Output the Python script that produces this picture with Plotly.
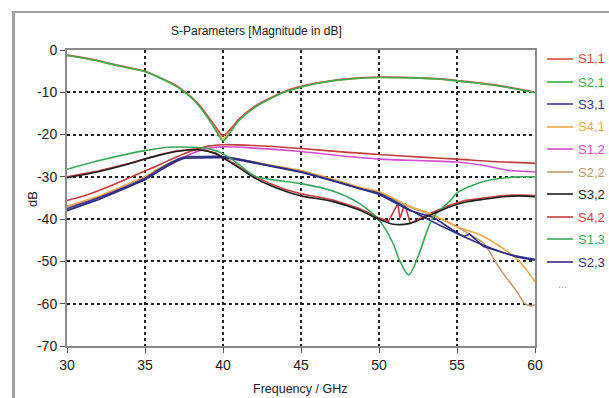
import plotly.graph_objects as go

# ---------------- data ----------------
f_s11 = [30, 31, 32, 33, 34, 35, 36, 37, 37.5, 38, 38.5, 39, 39.5, 40, 40.5, 41, 42, 43, 44, 45, 46, 47, 48, 50, 52, 54, 55, 56, 58, 60]
db_s11 = [-1.2, -1.8, -2.5, -3.4, -4.2, -5.0, -6.6, -8.4, -9.7, -11.2, -13.1, -15.5, -18.0, -20.3, -18.6, -16.4, -13.4, -11.4, -9.7, -8.6, -7.8, -7.2, -6.8, -6.4, -6.5, -6.8, -7.2, -7.6, -8.6, -10.0]

f_s21 = f_s11
db_s21 = [-1.3, -1.9, -2.6, -3.5, -4.3, -5.1, -6.7, -8.6, -9.9, -11.4, -13.4, -15.9, -18.8, -21.5, -19.3, -16.8, -13.7, -11.6, -9.9, -8.8, -7.9, -7.3, -6.9, -6.5, -6.6, -6.9, -7.3, -7.7, -8.7, -10.1]

f_s41_top = f_s11
db_s41_top = [-1.3, -1.9, -2.6, -3.5, -4.3, -5.1, -6.7, -8.5, -9.8, -11.3, -13.3, -15.8, -18.5, -21.0, -19.0, -16.6, -13.6, -11.5, -9.8, -8.7, -7.9, -7.3, -6.9, -6.5, -6.6, -6.9, -7.3, -7.7, -8.7, -10.0]

f_s31 = [30, 32, 34, 35, 36, 37, 37.5, 38.5, 40, 41, 43, 45, 47, 49, 50, 52, 53, 55, 56.4, 58.2, 60]
db_s31 = [-37.5, -35.0, -32.0, -30.3, -28.0, -26.0, -25.3, -25.2, -25.2, -25.8, -27.3, -28.8, -30.8, -33.0, -33.9, -37.8, -39.8, -43.4, -45.7, -48.2, -49.5]

f_s41 = [30, 32, 34, 35, 36, 37, 37.5, 38.5, 40, 41, 43, 45, 47, 49, 50, 52, 53.5, 55, 56.7, 58.9, 60]
db_s41 = [-37.0, -34.6, -31.6, -30.0, -27.8, -26.0, -25.5, -25.4, -25.3, -25.8, -27.2, -28.5, -30.5, -32.7, -33.5, -37.0, -39.0, -41.8, -44.1, -49.6, -54.8]

f_s12 = [30, 31, 32, 33, 34, 35, 36, 37, 38, 39, 40, 42, 45, 48, 50, 53, 55, 57, 58.2, 60]
db_s12 = [-37.0, -36.0, -34.8, -33.2, -31.6, -30.0, -28.2, -26.4, -24.5, -23.3, -22.9, -23.2, -24.0, -25.2, -25.8, -26.2, -26.5, -27.5, -28.4, -28.8]

f_s22 = [30, 32, 34, 35, 36, 37, 37.5, 38.5, 40, 41, 43, 45, 47, 49, 50, 52, 53.5, 55, 56, 56.7, 57.8, 58.9, 59.3, 59.7, 60]
db_s22 = [-37.8, -35.3, -32.2, -30.6, -28.3, -26.3, -25.6, -25.4, -25.3, -25.9, -27.3, -28.6, -30.6, -32.8, -33.6, -37.2, -39.2, -41.8, -44.0, -45.7, -52.0, -57.5, -59.8, -60.5, -60.2]

f_s32 = [30, 32, 34, 35, 36, 37, 38, 38.5, 39.5, 40, 41, 42, 43, 44, 45, 47, 48.7, 50, 50.9, 52, 53.3, 54.6, 55.5, 56.7, 58, 59, 60]
db_s32 = [-30.2, -28.8, -26.9, -25.8, -24.8, -24.0, -23.6, -23.6, -24.5, -25.5, -27.8, -30.2, -32.0, -33.4, -34.5, -35.8, -37.8, -40.0, -41.2, -41.0, -39.0, -37.0, -36.0, -35.3, -34.7, -34.5, -34.7]

f_s42 = [30, 31, 32, 33, 34, 35, 36, 37, 38, 39, 40, 42, 45, 48, 50, 53, 55, 57, 60]
db_s42 = [-35.6, -34.6, -33.3, -31.8, -30.2, -28.6, -27.0, -25.3, -23.8, -22.8, -22.4, -22.6, -23.3, -24.2, -24.7, -25.4, -25.8, -26.3, -26.8]

f_s13 = [30, 32, 34, 35, 36.5, 38, 39, 40, 41, 42, 43, 45, 47, 48.7, 50, 50.9, 51.3, 51.9, 52.5, 53.1, 53.5, 54.6, 55, 56.7, 58.9, 60]
db_s13 = [-28.2, -26.2, -24.5, -23.8, -23.0, -23.0, -23.3, -24.5, -27.0, -29.8, -30.6, -31.6, -33.3, -36.2, -40.2, -45.7, -49.6, -53.2, -48.9, -42.6, -39.4, -35.5, -33.8, -31.1, -30.0, -30.0]

f_s23 = [30, 32, 34, 35, 36, 37, 37.5, 38.5, 40, 41, 43, 45, 47, 49, 50, 52, 53.5, 54.7, 55.2, 55.5, 55.8, 56.7, 58.9, 60]
db_s23 = [-38.0, -35.4, -32.3, -30.7, -28.4, -26.3, -25.6, -25.5, -25.4, -26.0, -27.4, -28.9, -30.9, -33.1, -34.1, -38.0, -39.6, -42.5, -43.7, -44.1, -43.5, -46.5, -49.0, -49.7]

# extra (unlabelled, "...") trace with resonance spikes
f_extra = [30, 32, 34, 35, 36, 37, 38, 38.5, 39.5, 40, 41, 42, 43, 44, 45, 47, 48.7, 50, 50.6, 51.2, 51.35, 51.65, 52, 53.3, 54.6, 55.5, 56.7, 58, 59, 60]
db_extra = [-30.0, -28.6, -26.8, -25.7, -24.7, -23.9, -23.5, -23.5, -24.3, -25.3, -27.5, -29.8, -31.6, -33.0, -34.0, -35.4, -37.4, -39.7, -40.5, -36.4, -39.8, -36.3, -41.0, -38.6, -36.6, -35.6, -35.0, -34.4, -34.3, -34.4]

legend_names = ["S1,1", "S2,1", "S3,1", "S4,1", "S1,2", "S2,2", "S3,2", "S4,2", "S1,3", "S2,3"]
legend_colors = ["#d9484a", "#3cb04e", "#34348e", "#eeaa48", "#d24cd2", "#bf9c78", "#1e1e1e", "#c43c3c", "#3aa85a", "#2c2c84"]

x_ticks = [30, 35, 40, 45, 50, 55, 60]
y_ticks = [0, -10, -20, -30, -40, -50, -60, -70]

# ---------------- figure ----------------
FONT = "Liberation Sans, Arial, sans-serif"
W, H = 609, 398
L, R, T, B = 67, 535, 50, 346


def px(x):
    return (x - L) / (R - L)


def py(y):
    return (B - y) / (B - T)


fig = go.Figure()

series = [
    (f_s41_top, db_s41_top, legend_colors[3], "spline"),
    (f_extra, db_extra, legend_colors[7], "linear"),
    (f_s11, db_s11, legend_colors[0], "spline"),
    (f_s21, db_s21, legend_colors[1], "spline"),
    (f_s12, db_s12, legend_colors[4], "spline"),
    (f_s42, db_s42, legend_colors[7], "spline"),
    (f_s22, db_s22, legend_colors[5], "spline"),
    (f_s41, db_s41, legend_colors[3], "spline"),
    (f_s31, db_s31, legend_colors[2], "spline"),
    (f_s23, db_s23, legend_colors[9], "linear"),
    (f_s13, db_s13, legend_colors[8], "spline"),
    (f_s32, db_s32, legend_colors[6], "spline"),
]
for xs, ys, col, shp in series:
    fig.add_trace(go.Scatter(
        x=xs, y=ys, mode="lines",
        line=dict(color=col, width=1.6, shape=shp, smoothing=0.8) if shp == "spline" else dict(color=col, width=1.6),
        showlegend=False, hoverinfo="skip"))

axis_common = dict(
    showline=True, linecolor="#8a8a8a", linewidth=2, mirror=True,
    ticks="outside", ticklen=5, tickcolor="#555", tickwidth=1,
    showgrid=True, gridcolor="#222", gridwidth=1.5, griddash="dot",
    zeroline=False,
    tickfont=dict(family=FONT, size=14, color="#222"),
)
fig.update_xaxes(range=[30, 60], tickvals=x_ticks, ticktext=[str(v) for v in x_ticks], **axis_common)
fig.update_yaxes(range=[-70, 0], tickvals=y_ticks, ticktext=[str(v) for v in y_ticks], **axis_common)

shapes = []
annotations = []
# outer window frame
shapes.append(dict(type="line", xref="paper", yref="paper", x0=px(12), x1=px(615), y0=py(12), y1=py(12),
                   line=dict(color="#a0a0a0", width=2)))
shapes.append(dict(type="line", xref="paper", yref="paper", x0=px(13.5), x1=px(13.5), y0=py(12), y1=py(405),
                   line=dict(color="#a0a0a0", width=3)))

# manual legend
leg_y = [59, 82, 104, 127, 149, 172, 194, 217, 239, 262]
for name, col, yy in zip(legend_names, legend_colors, leg_y):
    shapes.append(dict(type="line", xref="paper", yref="paper", x0=px(547), x1=px(573), y0=py(yy), y1=py(yy),
                       line=dict(color=col, width=1.6)))
    annotations.append(dict(text=name, xref="paper", yref="paper", x=px(576), y=py(yy), xanchor="left",
                            yanchor="middle", showarrow=False, font=dict(family=FONT, size=13, color=col)))
annotations.append(dict(text="...", xref="paper", yref="paper", x=px(556), y=py(284), xanchor="left",
                        yanchor="middle", showarrow=False, font=dict(family=FONT, size=11, color="#888")))

annotations.append(dict(text="S-Parameters [Magnitude in dB]", xref="paper", yref="paper", x=px(256), y=py(31),
                        xanchor="center", yanchor="middle", showarrow=False,
                        font=dict(family=FONT, size=12, color="#222")))
annotations.append(dict(text="Frequency / GHz", xref="paper", yref="paper", x=px(300), y=py(389),
                        xanchor="center", yanchor="middle", showarrow=False,
                        font=dict(family=FONT, size=12.5, color="#222")))
annotations.append(dict(text="dB", xref="paper", yref="paper", x=px(32), y=py(199), textangle=-90,
                        xanchor="center", yanchor="middle", showarrow=False,
                        font=dict(family=FONT, size=13, color="#222")))

fig.update_layout(
    width=W, height=H,
    margin=dict(l=L, r=W - R, t=T, b=H - B),
    paper_bgcolor="white", plot_bgcolor="white",
    shapes=shapes, annotations=annotations, showlegend=False,
)

fig.write_html("out.html", config={"displayModeBar": False},
               post_script="document.body.style.margin='0';document.body.style.overflow='hidden';")
